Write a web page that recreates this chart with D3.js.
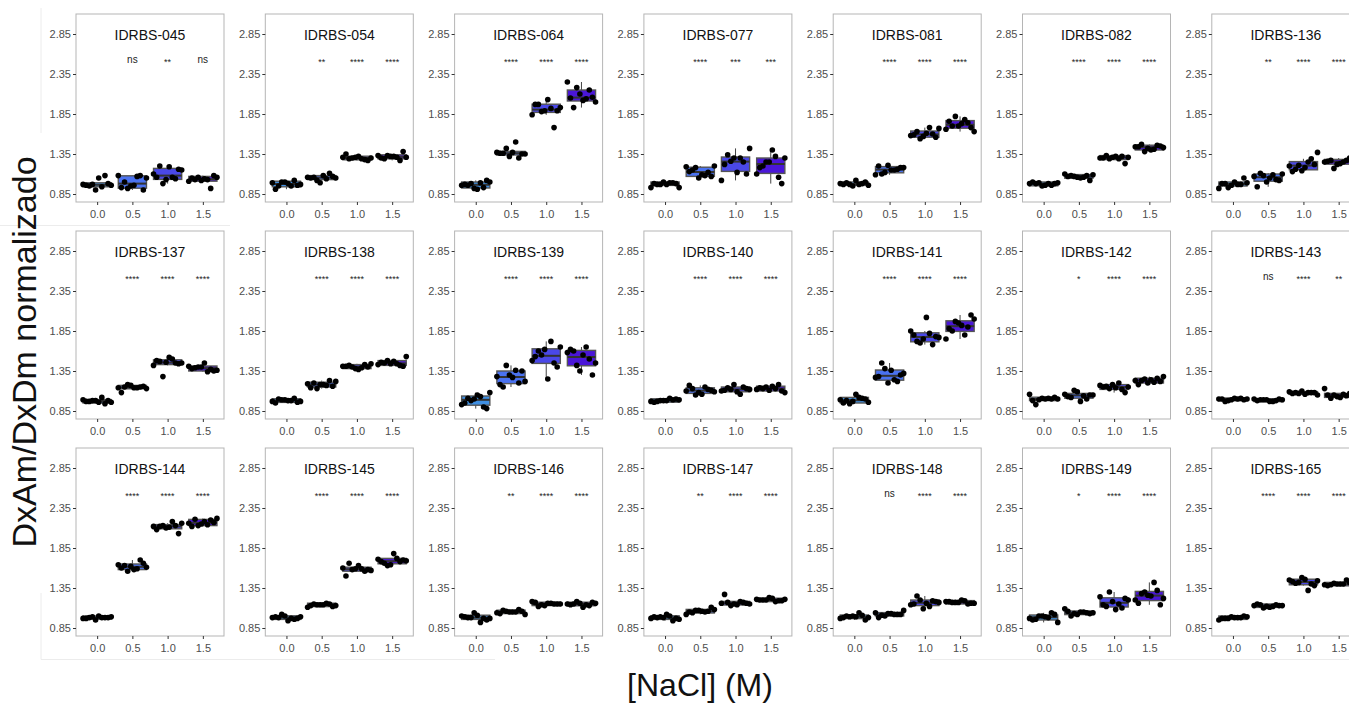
<!DOCTYPE html>
<html>
<head>
<meta charset="utf-8">
<script src="https://cdn.jsdelivr.net/npm/d3@7"></script>
<style>
  html, body { margin: 0; padding: 0; background: #fff; }
  svg { display: block; font-family: "Liberation Sans", Arial, Helvetica, sans-serif; }
</style>
</head>
<body>
<svg id="chart" width="1349" height="704"></svg>
<script>
// NaCl concentration levels (x categories) and y-axis ticks
const naclLevels = ["0.0", "0.5", "1.0", "1.5"];
const yTicks = [0.85, 1.35, 1.85, 2.35, 2.85];
const fillColors = ["#3f8fe2", "#4a72f0", "#4a48e8", "#4a16d8"];

// Strain names, one panel each (3 rows x 7 columns)
const strains = [
  "IDRBS-045", "IDRBS-054", "IDRBS-064", "IDRBS-077", "IDRBS-081", "IDRBS-082", "IDRBS-136",
  "IDRBS-137", "IDRBS-138", "IDRBS-139", "IDRBS-140", "IDRBS-141", "IDRBS-142", "IDRBS-143",
  "IDRBS-144", "IDRBS-145", "IDRBS-146", "IDRBS-147", "IDRBS-148", "IDRBS-149", "IDRBS-165"
];

// Significance vs 0.0 M for 0.5, 1.0 and 1.5 M
const signif = [
  ["ns", "**", "ns"], ["**", "****", "****"], ["****", "****", "****"], ["****", "***", "***"],
  ["****", "****", "****"], ["****", "****", "****"], ["**", "****", "****"],
  ["****", "****", "****"], ["****", "****", "****"], ["****", "****", "****"], ["****", "****", "****"],
  ["****", "****", "****"], ["*", "****", "****"], ["ns", "****", "**"],
  ["****", "****", "****"], ["****", "****", "****"], ["**", "****", "****"], ["**", "****", "****"],
  ["ns", "****", "****"], ["*", "****", "****"], ["****", "****", "****"]
];

// Normalised DxAm/DxDm ratios per strain, one list per NaCl level
const ratios = [
  // IDRBS-045
  [[0.97,1.08,0.90,0.96,0.98,1.05,0.95,0.96,0.94,0.97],
   [0.92,1.08,1.08,0.95,0.93,0.90,0.96,1.00,1.05,1.07],
   [1.06,0.98,1.10,1.04,1.03,1.06,1.16,1.19,1.20,1.15],
   [1.06,1.03,1.06,1.01,0.92,1.02,1.05,1.08,1.04,1.03]],
  // IDRBS-054
  [[0.91,0.96,0.98,0.95,0.97,0.95,1.00,0.99,1.02,1.00],
   [0.99,1.05,1.07,1.08,1.06,1.05,1.04,1.02,1.06,1.11],
   [1.28,1.31,1.35,1.27,1.32,1.29,1.30,1.29,1.30,1.31],
   [1.33,1.27,1.32,1.30,1.38,1.32,1.29,1.31,1.31,1.33]],
  // IDRBS-064
  [[0.96,1.00,0.99,0.98,0.96,0.93,0.92,0.97,1.02,0.91],
   [1.37,1.36,1.35,1.50,1.42,1.37,1.30,1.32,1.36,1.35],
   [1.89,2.03,1.97,1.93,1.92,1.88,1.84,1.68,1.89,1.97],
   [2.05,2.06,2.02,1.93,2.00,2.04,2.18,2.25,2.15,2.10]],
  // IDRBS-077
  [[0.97,0.93,0.99,1.00,0.98,0.98,0.97,0.97,0.93,0.99],
   [1.08,1.18,1.19,1.12,1.05,1.13,1.07,1.09,1.15,1.20],
   [1.42,1.30,1.26,1.02,1.25,1.30,1.22,1.10,1.12,1.34],
   [1.20,1.30,1.32,1.25,1.10,1.06,1.25,1.18,0.98,1.40]],
  // IDRBS-081
  [[0.95,0.97,1.00,1.02,0.99,0.96,0.97,0.97,0.98,0.98],
   [1.16,1.21,1.20,1.18,1.15,1.10,1.18,1.15,1.12,1.09],
   [1.58,1.60,1.57,1.59,1.56,1.61,1.63,1.67,1.68,1.54],
   [1.82,1.66,1.74,1.70,1.76,1.68,1.73,1.70,1.63,1.78]],
  // IDRBS-082
  [[0.96,0.98,0.99,0.98,0.99,0.98,0.96,0.95,1.00,0.98],
   [1.02,1.05,1.08,1.09,1.06,1.07,1.10,1.08,1.06,1.07],
   [1.30,1.23,1.32,1.33,1.31,1.29,1.29,1.30,1.32,1.31],
   [1.42,1.44,1.45,1.40,1.47,1.43,1.41,1.38,1.44,1.46]],
  // IDRBS-136
  [[0.97,0.93,0.92,0.97,0.96,0.98,1.05,1.00,0.98,0.99],
   [1.10,1.09,1.08,1.07,1.03,1.00,0.94,1.02,1.05,1.11],
   [1.16,1.37,1.25,1.21,1.20,1.29,1.14,1.13,1.22,1.18],
   [1.23,1.27,1.38,1.25,1.17,1.25,1.27,1.22,1.26,1.30]],
  // IDRBS-137
  [[0.94,0.98,0.97,0.98,0.96,0.97,0.96,1.02,0.98,0.99],
   [1.14,1.15,1.17,1.08,1.16,1.14,1.15,1.13,1.14,1.18],
   [1.28,1.42,1.45,1.46,1.48,1.44,1.52,1.47,1.45,1.50],
   [1.34,1.40,1.41,1.37,1.40,1.38,1.35,1.45,1.39,1.36]],
  // IDRBS-138
  [[0.96,0.98,1.00,0.97,0.98,0.99,0.97,1.01,0.99,0.95],
   [1.14,1.16,1.18,1.20,1.22,1.17,1.13,1.19,1.23,1.18],
   [1.38,1.41,1.40,1.37,1.42,1.44,1.39,1.40,1.41,1.43],
   [1.42,1.44,1.46,1.41,1.47,1.45,1.53,1.44,1.48,1.43]],
  // IDRBS-139
  [[1.08,1.03,0.98,0.93,0.90,1.00,0.95,0.88,1.05,1.01],
   [1.15,1.22,1.36,1.42,1.28,1.20,1.30,1.18,1.35,1.27],
   [1.25,1.60,1.65,1.72,1.55,1.48,1.45,1.62,1.53,1.40],
   [1.30,1.55,1.60,1.45,1.65,1.42,1.58,1.50,1.35,1.62]],
  // IDRBS-140
  [[0.97,0.99,0.98,0.96,1.00,0.98,0.97,0.99,1.01,0.98],
   [1.05,1.10,1.12,1.08,1.17,1.11,1.06,1.13,1.09,1.15],
   [1.06,1.12,1.10,1.15,1.18,1.11,1.13,1.09,1.14,1.12],
   [1.08,1.13,1.15,1.12,1.18,1.11,1.14,1.10,1.16,1.13]],
  // IDRBS-141
  [[0.95,1.00,1.06,0.98,0.96,1.02,0.94,0.99,1.01,0.97],
   [1.20,1.28,1.30,1.36,1.45,1.32,1.24,1.38,1.27,1.22],
   [1.68,1.75,1.80,1.78,2.02,1.72,1.77,1.82,1.70,1.85],
   [1.75,1.90,1.95,1.88,2.05,1.92,1.85,2.00,1.80,1.97]],
  // IDRBS-142
  [[0.93,1.00,1.01,0.99,1.06,1.00,1.01,0.98,1.02,1.00],
   [0.97,1.02,1.05,1.04,1.11,1.06,1.00,1.09,1.03,1.05],
   [1.08,1.14,1.16,1.15,1.20,1.13,1.17,1.12,1.18,1.15],
   [1.18,1.22,1.24,1.23,1.28,1.21,1.25,1.23,1.26,1.20]],
  // IDRBS-143
  [[0.98,1.00,1.01,0.99,1.00,0.99,1.01,0.97,1.00,1.00],
   [0.97,0.99,1.00,0.98,0.99,0.98,1.00,0.97,0.99,0.99],
   [1.05,1.08,1.07,1.09,1.08,1.10,1.07,1.08,1.06,1.08],
   [1.01,1.04,1.06,1.05,1.13,1.04,1.03,1.05,1.07,1.02]],
  // IDRBS-144
  [[0.95,0.97,0.98,1.00,0.98,0.99,0.98,0.99,0.97,0.98],
   [1.70,1.62,1.60,1.66,1.58,1.63,1.61,1.59,1.56,1.64],
   [2.12,2.13,2.10,2.08,2.03,2.11,2.12,2.16,2.18,2.13],
   [2.13,2.16,2.20,2.15,2.12,2.17,2.18,2.21,2.22,2.14]],
  // IDRBS-145
  [[0.94,0.98,0.99,0.97,1.02,0.98,0.96,1.00,0.99,0.97],
   [1.12,1.14,1.15,1.13,1.16,1.14,1.11,1.15,1.14,1.13],
   [1.50,1.58,1.63,1.66,1.57,1.59,1.58,1.60,1.56,1.59],
   [1.64,1.68,1.70,1.78,1.66,1.69,1.72,1.63,1.71,1.68]],
  // IDRBS-146
  [[0.92,0.98,1.00,0.97,1.04,0.99,0.95,1.01,0.98,0.97],
   [1.02,1.05,1.06,1.04,1.08,1.05,1.03,1.06,1.05,1.07],
   [1.12,1.15,1.16,1.14,1.18,1.15,1.13,1.17,1.15,1.16],
   [1.11,1.15,1.16,1.14,1.18,1.15,1.13,1.16,1.14,1.17]],
  // IDRBS-147
  [[0.94,0.98,0.99,0.97,1.02,0.98,0.96,1.00,0.99,0.97],
   [1.02,1.06,1.07,1.05,1.11,1.06,1.04,1.08,1.05,1.07],
   [1.13,1.16,1.17,1.15,1.27,1.16,1.14,1.17,1.15,1.18],
   [1.18,1.20,1.21,1.19,1.23,1.20,1.19,1.22,1.20,1.21]],
  // IDRBS-148
  [[0.95,0.99,1.00,0.98,1.04,0.99,0.97,1.01,1.00,0.98],
   [0.98,1.02,1.03,1.01,1.07,1.02,1.00,1.04,1.02,1.03],
   [1.09,1.15,1.18,1.16,1.25,1.17,1.12,1.20,1.14,1.19],
   [1.15,1.17,1.18,1.16,1.20,1.17,1.16,1.19,1.17,1.18]],
  // IDRBS-149
  [[0.92,0.98,1.00,0.97,1.04,1.00,0.95,1.02,0.99,0.96],
   [1.00,1.04,1.05,1.03,1.09,1.04,1.02,1.06,1.03,1.05],
   [1.08,1.12,1.20,1.15,1.30,1.24,1.10,1.18,1.14,1.22],
   [1.14,1.25,1.28,1.22,1.42,1.30,1.20,1.32,1.26,1.16]],
  // IDRBS-165
  [[0.95,0.98,0.99,0.97,1.00,0.98,0.97,0.99,0.98,0.97],
   [1.10,1.13,1.14,1.12,1.15,1.13,1.11,1.14,1.13,1.12],
   [1.32,1.42,1.45,1.40,1.48,1.43,1.38,1.46,1.41,1.44],
   [1.32,1.40,1.41,1.39,1.45,1.40,1.38,1.42,1.40,1.39]]
];

// ---- layout ----
const svg = d3.select("#chart");
const nCols = 7;
const panelW = 148, panelH = 188;
const colStep = 189.3, rowStep = 217;
const left0 = 76, top0 = 14;
const sigLevel = 2.52;

// faint backdrop edges between stacked panels
const faint = svg.append("g").attr("stroke", "#ececec").attr("stroke-width", 1).attr("fill", "none");
faint.append("path").attr("d", "M41,8V133M0,225.5H230M41,593V659.5M41,659.5H495M930,659.5H1349");

const y = d3.scaleLinear().domain([0.75, 3.1]).range([panelH, 0]);
const x = d3.scalePoint().domain(naclLevels).range([0, panelW]).padding(0.6);
const boxW = x.step() * 0.8;

function boxStats(vals) {
  const s = vals.slice().sort(d3.ascending);
  const q1 = d3.quantile(s, 0.25), med = d3.quantile(s, 0.5), q3 = d3.quantile(s, 0.75);
  const iqr = q3 - q1;
  const lo = d3.min(s.filter(v => v >= q1 - 1.5 * iqr));
  const hi = d3.max(s.filter(v => v <= q3 + 1.5 * iqr));
  return { q1, med, q3, lo, hi };
}

// deterministic horizontal spread for the points of one box
const jitter = (j, k, i) => ((((j * 7 + k * 3 + i) % 10) / 9) - 0.5) * x.step() * 0.8;

strains.forEach((name, i) => {
  const col = i % nCols, row = Math.floor(i / nCols);
  const g = svg.append("g")
    .attr("transform", `translate(${left0 + col * colStep},${top0 + row * rowStep})`);

  // panel frame
  g.append("rect").attr("width", panelW).attr("height", panelH)
    .attr("fill", "#fff").attr("stroke", "#b5b5b5").attr("stroke-width", 1);

  // axes
  const ya = g.append("g").call(d3.axisLeft(y).tickValues(yTicks).tickFormat(d3.format(".2f")).tickSize(3).tickPadding(2));
  const xa = g.append("g").attr("transform", `translate(0,${panelH})`)
    .call(d3.axisBottom(x).tickSize(3).tickPadding(5));
  [ya, xa].forEach(a => {
    a.select(".domain").remove();
    a.selectAll(".tick line").attr("stroke", "#333").attr("stroke-width", 1);
    a.selectAll(".tick text").attr("fill", "#4d4d4d").style("font-size", "11px")
      .style("font-family", "'Liberation Sans', Arial, sans-serif");
  });

  // title
  g.append("text").attr("x", panelW / 2).attr("y", 26).attr("text-anchor", "middle")
    .style("font-size", "14px").attr("fill", "#111").text(name);

  ratios[i].forEach((vals, k) => {
    const cx = x(naclLevels[k]);
    const st = boxStats(vals);
    // whisker
    g.append("line").attr("x1", cx).attr("x2", cx).attr("y1", y(st.lo)).attr("y2", y(st.hi))
      .attr("stroke", "#444").attr("stroke-width", 1);
    // box
    g.append("rect").attr("x", cx - boxW / 2).attr("width", boxW)
      .attr("y", y(st.q3) - 1).attr("height", Math.max(2, y(st.q1) - y(st.q3) + 2))
      .attr("fill", fillColors[k]).attr("stroke", "#555").attr("stroke-width", 1.4);
    // median
    g.append("line").attr("x1", cx - boxW / 2).attr("x2", cx + boxW / 2)
      .attr("y1", y(st.med)).attr("y2", y(st.med)).attr("stroke", "#333").attr("stroke-width", 2);
    // jittered points
    g.selectAll(null).data(vals).enter().append("circle")
      .attr("cx", (d, j) => cx + jitter(j, k, i))
      .attr("cy", d => y(d)).attr("r", 2.8).attr("fill", "#000");
  });

  // significance labels
  signif[i].forEach((lab, k) => {
    const isNs = lab === "ns";
    g.append("text").attr("x", x(naclLevels[k + 1])).attr("y", y(sigLevel) + (isNs ? 3 : 5))
      .attr("text-anchor", "middle").style("font-size", isNs ? "10px" : "9px")
      .attr("fill", "#222").text(lab);
  });
});

// axis titles
svg.append("text").attr("transform", "translate(36,352) rotate(-90)").attr("text-anchor", "middle")
  .style("font-size", "34px").attr("fill", "#111").text("DxAm/DxDm normalizado");
svg.append("text").attr("x", 700).attr("y", 696).attr("text-anchor", "middle")
  .style("font-size", "32px").attr("fill", "#111").text("[NaCl] (M)");
</script>
</body>
</html>
